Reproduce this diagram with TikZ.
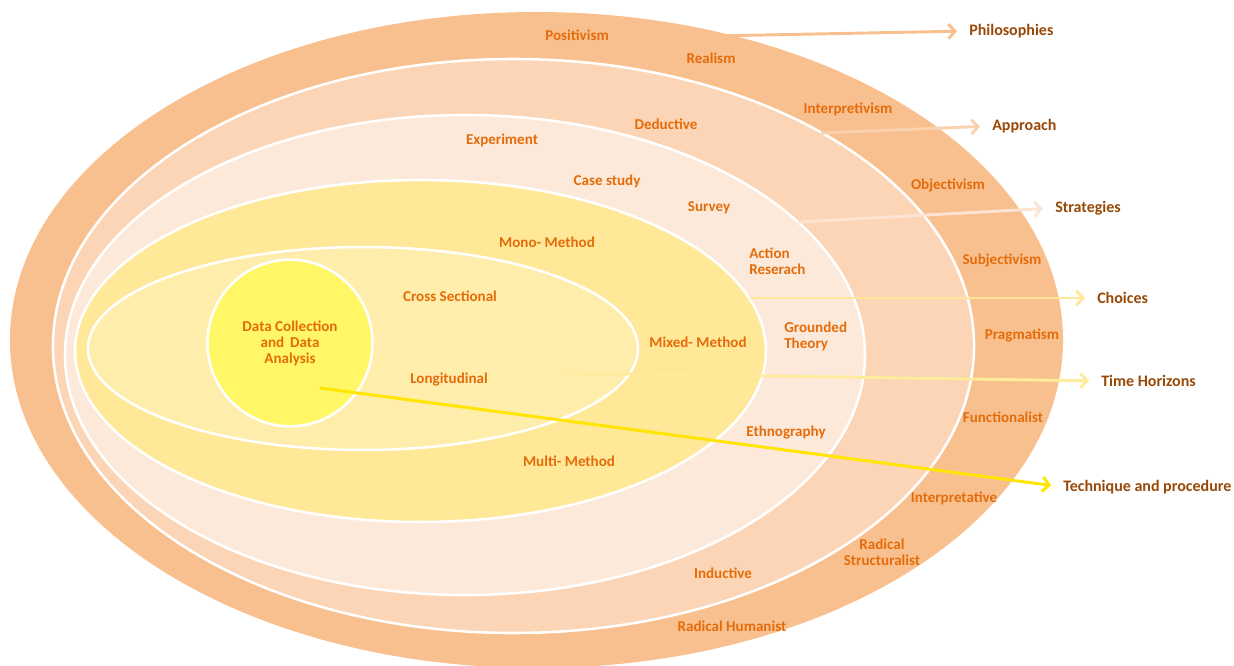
\documentclass[tikz,border=0pt]{standalone}
\usepackage{fontspec}
\setmainfont{Carlito}
\usetikzlibrary{arrows.meta}

% ring fills, from the outside in
\definecolor{ringA}{HTML}{F9C08F}
\definecolor{ringB}{HTML}{FBD5B5}
\definecolor{ringC}{HTML}{FDE9DA}
\definecolor{ringD}{HTML}{FFE898}
\definecolor{ringE}{HTML}{FFEDAC}
\definecolor{core}{HTML}{FFF766}
% text and connector colours
\definecolor{labOrange}{HTML}{E46C0A}
\definecolor{sideBrown}{HTML}{984807}
\definecolor{linkA}{HTML}{F9C08F}
\definecolor{linkB}{HTML}{FBD2AE}
\definecolor{linkC}{HTML}{FDE4D2}
\definecolor{linkD}{HTML}{FFE699}
\definecolor{linkE}{HTML}{FFEB9C}
\definecolor{linkF}{HTML}{FFE500}

\begin{document}
\begin{tikzpicture}[x=0.75pt,y=-0.75pt,
  lab/.style={font=\bfseries\fontsize{11.3}{12}\selectfont, text=labOrange, inner sep=0pt, align=center},
  side/.style={font=\bfseries\fontsize{12}{14}\selectfont, text=sideBrown, anchor=west, inner sep=0pt},
  ring/.style={draw=white, line width=1.9pt},
  link/.style={line width=2.2pt, shorten >=9pt, -{Straight Barb[length=5pt,width=11pt,line width=2.2pt]}}]

\useasboundingbox (0,0) rectangle (1234,666);

% nested research-onion layers
\fill[ringA] (536.5,340) ellipse [x radius=394.9pt, y radius=246pt];
\filldraw[ringB, ring] (513.5,346) ellipse [x radius=345.4pt, y radius=215.25pt];
\filldraw[ringC, ring] (465,355) ellipse [x radius=300pt, y radius=180pt];
\filldraw[ringD, ring] (420.5,351) ellipse [x radius=259.1pt, y radius=128.25pt];
\filldraw[ringE, ring] (363,348.5) ellipse [x radius=206.25pt, y radius=76.1pt];
\filldraw[core, ring] (290,343) ellipse [x radius=61.9pt, y radius=62.5pt];

% philosophies
\node[lab] (positivism) at (577,35) {Positivism};
\node[lab] (realism) at (711,58) {Realism};
\node[lab] (interpretivism) at (848,109) {Interpretivism};
\node[lab] (objectivism) at (948,185) {Objectivism};
\node[lab] (subjectivism) at (1002,260) {Subjectivism};
\node[lab] (pragmatism) at (1022,335) {Pragmatism};
\node[lab] (functionalist) at (1003,417) {Functionalist};
\node[lab] (interpretative) at (954,498) {Interpretative};
\node[lab] (radstruct) at (882,552) {Radical\\Structuralist};
\node[lab] (radhuman) at (732,626) {Radical Humanist};

% approaches
\node[lab] (deductive) at (666,124) {Deductive};
\node[lab] (inductive) at (723,573) {Inductive};

% strategies
\node[lab] (experiment) at (502,140) {Experiment};
\node[lab] (casestudy) at (607,181) {Case study};
\node[lab] (survey) at (709,208) {Survey};
\node[lab, align=left, anchor=west] (action) at (749,261) {Action\\Reserach};
\node[lab, align=left, anchor=west] (grounded) at (784,336) {Grounded\\Theory};
\node[lab] (ethnography) at (786,432) {Ethnography};

% choices
\node[lab] (mono) at (547,242) {Mono- Method};
\node[lab] (mixed) at (698,342) {Mixed- Method};
\node[lab] (multi) at (569,461) {Multi- Method};

% time horizons
\node[lab] (cross) at (450,296) {Cross Sectional};
\node[lab] (longit) at (449,379) {Longitudinal};

% core
\node[lab] (datacoll) at (290,343.5) {Data Collection\\and\, Data\\Analysis};

% layer names
\node[side] (philo) at (969,31) {Philosophies};
\node[side] (approach) at (992,126) {Approach};
\node[side] (strategies) at (1055,208) {Strategies};
\node[side] (choices) at (1097,298) {Choices};
\node[side] (timeh) at (1101,381) {Time Horizons};
\node[side] (technique) at (1063,487) {Technique and procedure};

% connector start points inside the layers
\coordinate (sPhilo) at (713,36);
\coordinate (sApproach) at (821,133);
\coordinate (sStrat) at (798,222);
\coordinate (sChoice) at (750,298);
\coordinate (sTime) at (567,373);
\coordinate (sTech) at (320,388);

\draw[link, linkA] (sPhilo) -- (philo.west);
\draw[link, linkB] (sApproach) -- (approach.west);
\draw[link, linkC] (sStrat) -- (strategies.west);
\draw[link, linkD] (sChoice) -- (choices.west);
\draw[link, linkE] (sTime) -- (timeh.west);
\draw[link, linkF] (sTech) -- (technique.west);
\end{tikzpicture}
\end{document}
